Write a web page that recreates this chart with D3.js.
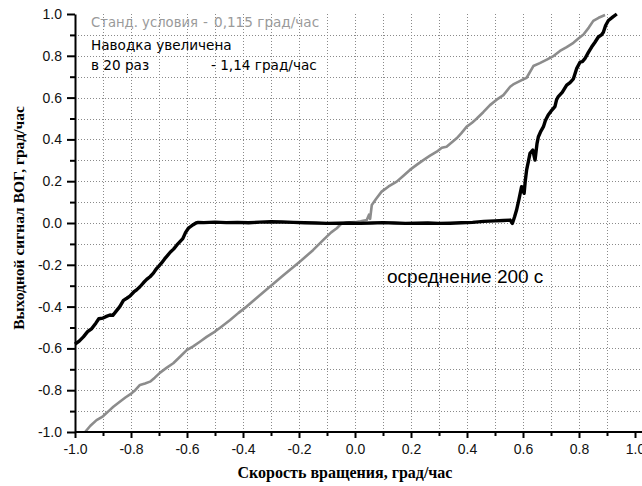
<!DOCTYPE html>
<html>
<head>
<meta charset="utf-8">
<script src="https://cdn.jsdelivr.net/npm/d3@7/dist/d3.min.js"></script>
<style>
  html, body { margin: 0; padding: 0; background: #fff; }
  svg { display: block; }
</style>
</head>
<body>
<svg id="chart" width="642" height="486"></svg>
<script>
// Rotation rate (град/час) for the ramp with amplified drift (black)
const amplifiedRate = [
  -1.000,-0.985,-0.970,-0.955,-0.940,-0.925,-0.915,-0.900,-0.890,-0.875,-0.865,-0.855,-0.840,-0.827,
  -0.815,-0.804,-0.790,-0.780,-0.768,-0.755,-0.744,-0.732,-0.720,-0.710,-0.702,-0.690,-0.680,-0.673,
  -0.660,-0.648,-0.636,-0.625,-0.615,-0.605,-0.595,-0.588,-0.578,-0.568,-0.560,
  -0.54,-0.50,-0.46,-0.42,-0.38,-0.34,-0.30,-0.26,-0.22,-0.18,-0.14,-0.10,-0.06,-0.02,
  0.02,0.06,0.10,0.14,0.18,0.22,0.26,0.30,0.34,0.38,0.42,0.46,0.50,0.53,
  0.554,0.562,0.570,0.577,0.585,0.595,0.604,0.608,0.613,0.620,0.625,0.635,0.643,0.650,0.655,0.664,
  0.673,0.680,0.690,0.700,0.714,0.720,0.726,0.740,0.756,0.768,0.780,0.792,0.804,0.812,0.821,0.833,
  0.845,0.857,0.869,0.880,0.887,0.895,0.905,0.920,0.935
];
// Gyro output (град/час) for the amplified-drift ramp
const amplifiedOut = [
  -0.580,-0.565,-0.545,-0.520,-0.505,-0.478,-0.458,-0.455,-0.448,-0.440,-0.442,-0.425,-0.400,-0.370,
  -0.360,-0.350,-0.330,-0.320,-0.305,-0.285,-0.270,-0.257,-0.240,-0.220,-0.209,-0.190,-0.172,-0.161,
  -0.140,-0.125,-0.105,-0.089,-0.075,-0.045,-0.025,-0.018,-0.008,0.000,0.003,
  0.002,0.004,0.002,0.003,0.001,0.004,0.006,0.005,0.003,0.001,0.000,-0.002,-0.001,0.000,
  -0.002,0.000,0.002,0.000,-0.002,-0.001,0.000,-0.002,-0.001,0.001,0.003,0.008,0.010,0.012,
  0.014,-0.002,0.030,0.062,0.110,0.174,0.142,0.200,0.254,0.300,0.333,0.349,0.301,0.380,0.413,0.440,
  0.461,0.490,0.517,0.535,0.557,0.590,0.605,0.625,0.660,0.672,0.690,0.740,0.770,0.772,0.786,0.815,
  0.842,0.865,0.890,0.900,0.913,0.945,0.969,0.985,1.000
];

// Rotation rate (град/час) under standard conditions (grey)
const standardRate = [
  -0.964,-0.945,-0.923,-0.900,-0.880,-0.863,-0.840,-0.820,-0.798,-0.785,-0.768,-0.750,-0.732,-0.715,
  -0.696,-0.672,-0.649,-0.625,-0.601,-0.578,-0.554,-0.530,-0.506,-0.476,-0.446,-0.416,-0.387,-0.363,
  -0.339,-0.300,-0.260,-0.220,-0.190,-0.150,-0.113,-0.085,-0.065,-0.050,-0.030,0.000,0.020,0.042,
  0.050,0.054,0.060,0.075,0.095,0.120,0.149,0.172,0.196,0.220,0.244,0.268,0.292,0.310,0.327,0.345,
  0.363,0.380,0.399,0.418,0.435,0.458,0.482,0.506,0.530,0.554,0.565,0.590,0.613,0.637,0.660,0.685,
  0.710,0.732,0.756,0.780,0.800,0.816,0.835,0.851,0.870,0.893
];
// Gyro output (град/час) under standard conditions
const standardOut = [
  -1.000,-0.970,-0.943,-0.925,-0.900,-0.879,-0.855,-0.835,-0.815,-0.800,-0.775,-0.768,-0.759,-0.740,
  -0.716,-0.692,-0.671,-0.640,-0.608,-0.590,-0.568,-0.545,-0.525,-0.495,-0.464,-0.430,-0.400,-0.372,
  -0.344,-0.300,-0.255,-0.210,-0.177,-0.130,-0.081,-0.045,-0.025,-0.005,0.002,0.004,0.008,0.014,
  0.040,0.020,0.086,0.115,0.150,0.175,0.198,0.225,0.254,0.278,0.301,0.322,0.341,0.360,0.365,0.385,
  0.405,0.430,0.461,0.480,0.500,0.530,0.564,0.590,0.612,0.652,0.663,0.680,0.695,0.751,0.765,0.782,
  0.800,0.823,0.842,0.862,0.885,0.902,0.935,0.967,0.982,0.995
];

// Axis ticks
const majorTicks = [-1.0,-0.8,-0.6,-0.4,-0.2,0.0,0.2,0.4,0.6,0.8,1.0];
const minorTicks = [-0.9,-0.7,-0.5,-0.3,-0.1,0.1,0.3,0.5,0.7,0.9];
const gridTicks  = [-0.9,-0.8,-0.7,-0.6,-0.5,-0.4,-0.3,-0.2,-0.1,0.0,0.1,0.2,0.3,0.4,0.5,0.6,0.7,0.8,0.9];

const svg = d3.select("#chart");
const x = d3.scaleLinear().domain([-1, 1]).range([75, 635]);
const y = d3.scaleLinear().domain([-1, 1]).range([432, 14]);
const fmt = d3.formatLocale({decimal: ".", thousands: ",", grouping: [3], currency: ["", ""], minus: "-"}).format(".1f");

// Dotted grid
const grid = svg.append("g").attr("stroke", "#8a8a8a").attr("stroke-width", 1).attr("stroke-dasharray", "1,2");
grid.selectAll("line.v").data(gridTicks).join("line")
  .attr("x1", d => Math.round(x(d)) + 0.5).attr("x2", d => Math.round(x(d)) + 0.5)
  .attr("y1", y(-1)).attr("y2", y(1));
grid.selectAll("line.h").data(gridTicks).join("line")
  .attr("y1", d => Math.round(y(d)) + 0.5).attr("y2", d => Math.round(y(d)) + 0.5)
  .attr("x1", x(-1)).attr("x2", 642);

// Curves
const line = d3.line().x(d => x(d[0])).y(d => y(d[1])).curve(d3.curveLinear);
const standard = standardRate.map((r, i) => [r, standardOut[i]]);
const amplified = amplifiedRate.map((r, i) => [r, amplifiedOut[i]]);

svg.append("path").datum(standard)
  .attr("fill", "none").attr("stroke", "#8c8c8c").attr("stroke-width", 2.6)
  .attr("stroke-linejoin", "round").attr("d", line);
svg.append("path").datum(amplified)
  .attr("fill", "none").attr("stroke", "#000").attr("stroke-width", 3.4)
  .attr("stroke-linejoin", "round").attr("d", line);

// Axes
function styleAxis(g) {
  g.select(".domain").attr("stroke", "#000").attr("stroke-width", 2);
  g.selectAll(".tick line").attr("stroke", "#000").attr("stroke-width", 2);
  g.selectAll(".tick text").attr("fill", "#111")
    .style("font-family", "'Liberation Sans', Arial, sans-serif").style("font-size", "14px");
}

const yAxis = svg.append("g").attr("transform", `translate(${x(-1)},0)`)
  .call(d3.axisLeft(y).tickValues(majorTicks).tickFormat(fmt).tickSize(8).tickSizeOuter(0).tickPadding(5));
styleAxis(yAxis);
const yMinor = svg.append("g").attr("transform", `translate(${x(-1)},0)`)
  .call(d3.axisLeft(y).tickValues(minorTicks).tickFormat("").tickSize(5).tickSizeOuter(0));
styleAxis(yMinor);

const xAxis = svg.append("g").attr("transform", `translate(0,${y(-1)})`)
  .call(d3.axisBottom(x).tickValues(majorTicks).tickFormat(fmt).tickSize(6).tickSizeOuter(0).tickPadding(6));
styleAxis(xAxis);
xAxis.select(".domain").attr("d", `M${x(-1)},0H642`);
const xMinor = svg.append("g").attr("transform", `translate(0,${y(-1)})`)
  .call(d3.axisBottom(x).tickValues(minorTicks).tickFormat("").tickSize(4).tickSizeOuter(0));
styleAxis(xMinor);
xMinor.select(".domain").remove();
yMinor.select(".domain").remove();

// Axis titles
svg.append("text").attr("x", 345).attr("y", 478).attr("text-anchor", "middle")
  .style("font-family", "'Liberation Serif', 'Times New Roman', serif").style("font-weight", "bold").style("font-size", "16px")
  .text("Скорость вращения, град/час");
svg.append("text").attr("transform", "translate(24,218) rotate(-90)").attr("text-anchor", "middle")
  .style("font-family", "'Liberation Serif', 'Times New Roman', serif").style("font-weight", "bold").style("font-size", "15.5px")
  .text("Выходной сигнал ВОГ, град/час");

// Annotations
const note = { "font-family": "'DejaVu Sans', Verdana, sans-serif", "font-size": "13.6px" };
function addText(tx, ty, str, color, extra) {
  const t = svg.append("text").attr("x", tx).attr("y", ty).attr("fill", color).text(str);
  Object.entries(Object.assign({}, note, extra || {})).forEach(([k, v]) => t.style(k, v));
  return t;
}
addText(91, 27, "Станд. условия", "#9a9a9a", { "font-size": "13.2px" });
addText(203, 27, "-", "#9a9a9a");
addText(214, 27, "0,115 град/час", "#9a9a9a");
addText(91, 50, "Наводка увеличена", "#000");
addText(91, 70, "в 20 раз", "#000");
addText(211, 70, "- 1,14 град/час", "#000");
addText(387, 283, "осреднение 200 с", "#000", { "font-family": "'Liberation Sans', Arial, sans-serif", "font-size": "19px" });
</script>
</body>
</html>
